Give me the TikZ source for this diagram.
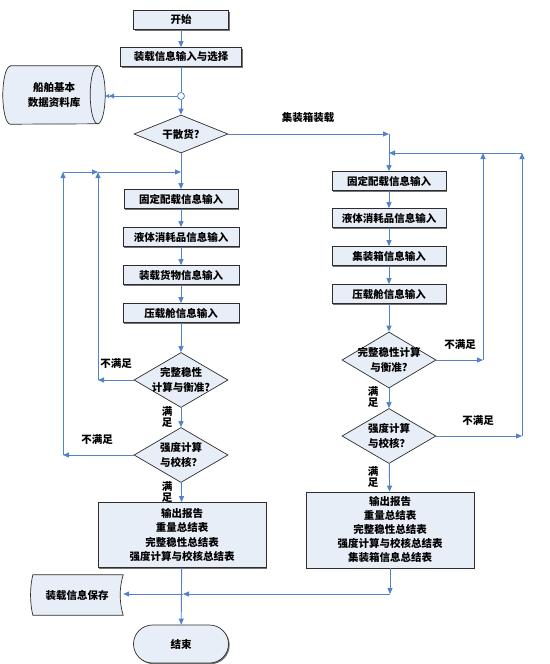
\documentclass[tikz,border=0pt]{standalone}
\usepackage{fontspec}
\setmainfont{Noto Sans CJK SC}
\usetikzlibrary{shapes.geometric,shapes.misc,arrows.meta,shadows,backgrounds}
\definecolor{boxfill}{RGB}{232,238,247}
\definecolor{lnblue}{RGB}{84,130,200}
\definecolor{bord}{RGB}{45,45,45}
\tikzset{
  txt/.style={font=\fontsize{10.5}{14.5}\selectfont\bfseries,align=center},
  shade/.style={drop shadow={shadow xshift=1.2pt,shadow yshift=-1.2pt,fill=black!55,opacity=1}},
  base/.style={txt,fill=boxfill,draw=bord,line width=0.7pt,inner sep=0pt},
  proc/.style={base,shade,rectangle,minimum height=19pt},
  dec/.style={base,diamond,inner sep=-4pt,minimum width=94pt,minimum height=55pt,aspect=1.7},
  outl/.style={fill=boxfill,draw=bord,line width=0.7pt},
  ln/.style={draw=lnblue,line width=0.9pt},
  arr/.style={ln,-{Triangle[length=6pt,width=5pt]}},
  lab/.style={font=\fontsize{10.5}{11}\selectfont\bfseries,inner sep=0pt,align=center},
}
\begin{document}
\begin{tikzpicture}[x=1pt,y=-1pt]
\useasboundingbox (0,0) rectangle (549,664);
% top
\node[proc,minimum width=95pt] (start) at (181,20) {开始};
\node[proc,minimum width=121pt] (input) at (181,57) {装载信息输入与选择};
\node[circle,draw=lnblue,fill=white,line width=0.8pt,minimum size=7pt,inner sep=0pt] (j) at (181,96) {};
\node[txt,inner sep=0pt,minimum width=102pt,minimum height=58pt] (db) at (54,95) {船舶基本\\数据资料库};
\begin{scope}[on background layer]
\draw[outl] ([xshift=7.5pt]db.north west) -- ([xshift=-7.5pt]db.north east)
  arc[start angle=90,end angle=-90,x radius=7.5pt,y radius=29pt]
  -- ([xshift=7.5pt]db.south west)
  arc[start angle=270,end angle=90,x radius=7.5pt,y radius=29pt] -- cycle;
\draw[draw=bord,line width=0.7pt] ([xshift=-7.5pt]db.north east)
  arc[start angle=90,end angle=270,x radius=7.5pt,y radius=29pt];
\end{scope}
\node[dec,minimum width=94pt,minimum height=38pt,aspect=2.47] (dry) at (181,134) {干散货?};
% left column
\node[proc,minimum width=114pt] (L1) at (181,199) {固定配载信息输入};
\node[proc,minimum width=116pt] (L2) at (181,237) {液体消耗品信息输入};
\node[proc,minimum width=116pt] (L3) at (181,275) {装载货物信息输入};
\node[proc,minimum width=116pt] (L4) at (181,313) {压载舱信息输入};
\node[dec] (Ld1) at (181,380) {完整稳性\\计算与衡准?};
\node[dec] (Ld2) at (181,455) {强度计算\\与校核？};
\node[proc,minimum width=168pt,minimum height=65pt] (Lout) at (182,535) {输出报告\\重量总结表\\完整稳性总结表\\强度计算与校核总结表};
% right column
\node[proc,minimum width=114pt] (R1) at (389,181) {固定配载信息输入};
\node[proc,minimum width=114pt] (R2) at (389,218) {液体消耗品信息输入};
\node[proc,minimum width=114pt] (R3) at (389,256) {集装箱信息输入};
\node[proc,minimum width=114pt] (R4) at (389,294) {压载舱信息输入};
\node[dec,minimum height=56pt] (Rd1) at (389,360) {完整稳性计算\\与衡准?};
\node[dec] (Rd2) at (389,436) {强度计算\\与校核？};
\node[proc,minimum width=168pt,minimum height=76pt,font=\fontsize{10.5}{14}\selectfont\bfseries] (Rout) at (390,530) {输出报告\\重量总结表\\完整稳性总结表\\强度计算与校核总结表\\集装箱信息总结表};
% bottom
\node[txt,inner sep=0pt,minimum width=92pt,minimum height=40pt] (save) at (77,595) {装载信息保存};
\begin{scope}[on background layer]
\draw[outl] ([xshift=2pt]save.north west) -- (save.north east)
  .. controls +(-4,13) and +(-4,-13) .. (save.south east) -- ([xshift=2pt]save.south west)
  .. controls +(-3,-13) and +(-3,13) .. ([xshift=2pt]save.north west) -- cycle;
\end{scope}
\node[base,shade,rounded rectangle,minimum width=95pt,minimum height=38pt] (end) at (181,644) {结束};
% coordinates
\coordinate (cR) at (389,134);
\coordinate (rt) at (389,153);
\coordinate (rA) at (483,153);
\coordinate (rB) at (522,153);
\coordinate (lt) at (181,172);
\coordinate (lA) at (98,172);
\coordinate (lB) at (63,172);
\coordinate (rb) at (390,594);
\coordinate (lb) at (183,594);
% connectors top
\draw[arr] (start) -- (input);
\draw[ln] (input) -- (j);
\draw[arr] (j) -- (dry);
\draw[ln,-{Triangle[length=5pt,width=5pt] Triangle[open,length=4pt,width=4pt]}] (j) -- (j -| db.east);
\draw[arr] (dry.east) -- (cR);
\draw[arr] (cR) -- (R1.north);
% right column
\draw[arr] (R1) -- (R2);
\draw[arr] (R2) -- (R3);
\draw[arr] (R3) -- (R4);
\draw[arr] (R4) -- (Rd1);
\draw[arr] (Rd1) -- (Rd2);
\draw[arr] (Rd2) -- (Rout);
\draw[arr] (Rd1.east) -- (Rd1.east -| rA);
\draw[arr] (Rd1.east -| rA) -- (rA);
\draw[arr] (Rd2.east) -- (Rd2.east -| rB);
\draw[arr] (Rd2.east -| rB) -- (rB);
\draw[arr] (rB) -- (rt);
% left column
\draw[arr] (dry) -- (L1);
\draw[arr] (L1) -- (L2);
\draw[arr] (L2) -- (L3);
\draw[arr] (L3) -- (L4);
\draw[arr] (L4) -- (Ld1);
\draw[arr] (Ld1) -- (Ld2);
\draw[arr] (Ld2) -- (Lout);
\draw[arr] (Ld1.west) -- (Ld1.west -| lA);
\draw[arr] (Ld1.west -| lA) -- (lA);
\draw[arr] (Ld2.west) -- (Ld2.west -| lB);
\draw[arr] (Ld2.west -| lB) -- (lB);
\draw[arr] (lB) -- (lA);
\draw[arr] (lA) -- (lt);
% bottom
\draw[arr] (Lout) -- (end);
\draw[arr] (Rout.south) -- (rb);
\draw[arr] (rb) -- (lb);
\draw[arr] (lb) -- (lb -| save.east);
% labels
\node[lab] (t1) at (308,118) {集装箱装载};
\node[lab] (n1) at (116,363) {不满足};
\node[lab] (n2) at (97,439) {不满足};
\node[lab] (n3) at (460,344) {不满足};
\node[lab] (n4) at (478,420) {不满足};
\node[lab] (m1) at (167,417) {满\\足};
\node[lab] (m2) at (167,492) {满\\足};
\node[lab] (m3) at (373,397) {满\\足};
\node[lab] (m4) at (373,477) {满\\足};
\end{tikzpicture}
\end{document}
